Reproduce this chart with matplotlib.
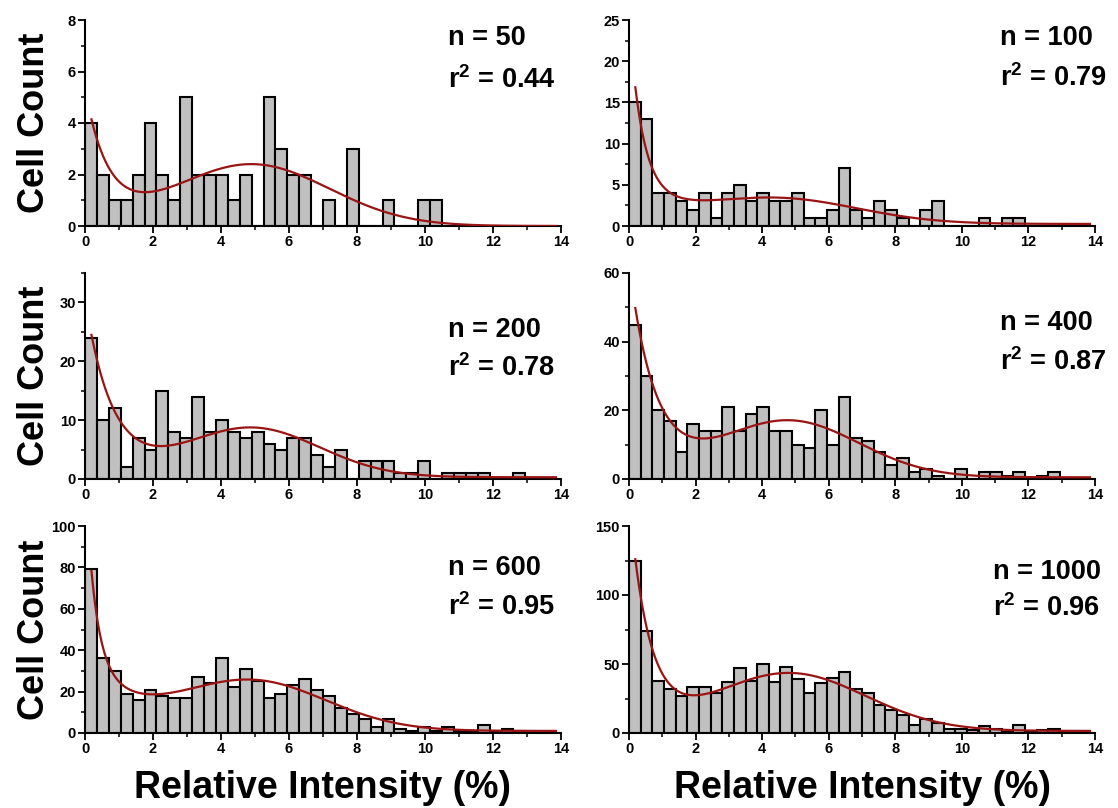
import numpy as np
import matplotlib
matplotlib.use('Agg')
import matplotlib.pyplot as plt
from matplotlib.ticker import MultipleLocator

plt.rcParams['font.family'] = ['Liberation Sans', 'DejaVu Sans']
plt.rcParams['font.weight'] = 'bold'
plt.rcParams['mathtext.fontset'] = 'custom'
plt.rcParams['mathtext.rm'] = 'Liberation Sans:bold'
plt.rcParams['mathtext.default'] = 'rm'

# histogram bins (relative intensity, %)
bin_width = 0.35

# counts per bin
counts_50 = [4, 2, 1, 1, 2, 4, 2, 1, 5, 2, 2, 2, 1, 2, 0, 5, 3, 2, 2, 0,
             1, 0, 3, 0, 0, 1, 0, 0, 1, 1]
counts_100 = [15, 13, 4, 4, 3, 2, 4, 1, 4, 5, 3, 4, 3, 3, 4, 1, 1, 2, 7, 2,
              1, 3, 2, 1, 0, 2, 3, 0, 0, 0, 1, 0, 1, 1]
counts_200 = [24, 10, 12, 2, 7, 5, 15, 8, 7, 14, 8, 10, 8, 7, 8, 6, 5, 7, 7, 4,
              2, 5, 0, 3, 3, 3, 1, 1, 3, 0, 1, 1, 1, 1, 0, 0, 1]
counts_400 = [45, 30, 20, 17, 8, 16, 14, 14, 21, 14, 19, 21, 14, 14, 10, 9, 20, 10, 24, 12,
              11, 8, 4, 6, 2, 3, 1, 0, 3, 0, 2, 2, 1, 2, 0, 1, 2]
counts_600 = [79, 36, 30, 19, 16, 21, 18, 17, 17, 27, 24, 36, 22, 31, 25, 17, 19, 23, 26, 21,
              18, 12, 9, 7, 3, 7, 2, 1, 3, 1, 3, 1, 1, 4, 1, 2, 1, 0]
counts_1000 = [125, 74, 38, 32, 27, 33, 33, 29, 37, 47, 38, 50, 37, 48, 39, 29, 36, 40, 44, 32,
               29, 20, 17, 13, 6, 10, 7, 3, 3, 2, 5, 3, 1, 6, 1, 2, 3, 1]

sample_sizes = [50, 100, 200, 400, 600, 1000]
r_squared = ['0.44', '0.79', '0.78', '0.87', '0.95', '0.96']
all_counts = [counts_50, counts_100, counts_200, counts_400, counts_600, counts_1000]

# fit: fast decay + slow decay + gaussian + offset
# (A1, t1, A2, t2, B, mu, sigma, c)
fit_params = [
    (5.1, 0.68, 0.0, 1.0, 2.4, 4.9, 2.28, 0.0),
    (20.3, 0.395, 3.9, 1.5, 3.0, 4.5, 2.4, 0.25),
    (30.0, 0.8, 0.0, 1.0, 8.4, 4.9, 2.0, 0.3),
    (61.0, 0.78, 0.0, 1.0, 16.5, 4.8, 2.1, 0.5),
    (87.0, 0.285, 35.0, 1.3, 24.0, 4.9, 2.2, 1.0),
    (163.0, 0.6, 0.0, 1.0, 42.0, 4.8, 2.3, 1.5),
]

y_max = [8, 25, 35, 60, 100, 150]
y_major = [2, 5, 10, 20, 20, 50]
y_minor = [1, 2.5, 5, 10, 10, 25]

W, H = 1118, 808
fig = plt.figure(figsize=(W / 100, H / 100), dpi=100)

col_px = [(85, 561), (629, 1095)]
row_px = [(20, 226), (273, 479), (526, 733)]
text_px = [(448, 38, 80), (1000, 38, 78), (448, 330, 368),
           (1000, 323, 362), (448, 568, 607), (993, 572, 608)]

bar_color = '#c0c0c0'
fit_color = '#9a1414'

for i in range(6):
    r, c = divmod(i, 2)
    x0, x1 = col_px[c]
    y0, y1 = row_px[r]
    ax = fig.add_axes([x0 / W, 1 - y1 / H, (x1 - x0) / W, (y1 - y0) / H])

    counts = all_counts[i]
    edges = np.arange(len(counts)) * bin_width
    ax.bar(edges, counts, width=bin_width, align='edge', color=bar_color,
           edgecolor='black', linewidth=1.5, zorder=2)

    A1, t1, A2, t2, B, mu, s, off = fit_params[i]
    xf = np.linspace(0.19, 13.85, 400)
    yf = (A1 * np.exp(-xf / t1) + A2 * np.exp(-xf / t2)
          + B * np.exp(-(xf - mu) ** 2 / (2 * s ** 2)) + off)
    ax.plot(xf, yf, color=fit_color, lw=1.6, zorder=3)

    ax.set_xlim(0, 14)
    ax.set_ylim(0, y_max[i])
    ax.xaxis.set_major_locator(MultipleLocator(2))
    ax.xaxis.set_minor_locator(MultipleLocator(1))
    ax.yaxis.set_major_locator(MultipleLocator(y_major[i]))
    ax.yaxis.set_minor_locator(MultipleLocator(y_minor[i]))
    for side in ['top', 'right']:
        ax.spines[side].set_visible(False)
    for side in ['left', 'bottom']:
        ax.spines[side].set_linewidth(1.5)
    ax.tick_params(which='major', direction='out', length=5, width=1.3,
                   labelsize=10.5, pad=1.5)
    ax.tick_params(which='minor', direction='out', length=3, width=1.1)
    for lab in ax.get_xticklabels() + ax.get_yticklabels():
        lab.set_fontweight('bold')

    tx, ty_n, ty_r = text_px[i]
    fig.text(tx / W, 1 - ty_n / H, 'n = %d' % sample_sizes[i],
             fontsize=19.5, fontweight='bold', va='center', ha='left')
    fig.text(tx / W, 1 - ty_r / H, 'r$^2$ = ' + r_squared[i],
             fontsize=19.5, fontweight='bold', va='center', ha='left')

for r in range(3):
    y0, y1 = row_px[r]
    fig.text(35 / W, 1 - (y0 + y1) / 2 / H, 'Cell Count', rotation=90,
             fontsize=26, fontweight='bold', va='center', ha='center')

for c in range(2):
    x0, x1 = col_px[c]
    fig.text((x0 + x1) / 2 / W, 1 - 788 / H, 'Relative Intensity (%)',
             fontsize=27, fontweight='bold', va='center', ha='center')

fig.savefig('out.png', dpi=100)
